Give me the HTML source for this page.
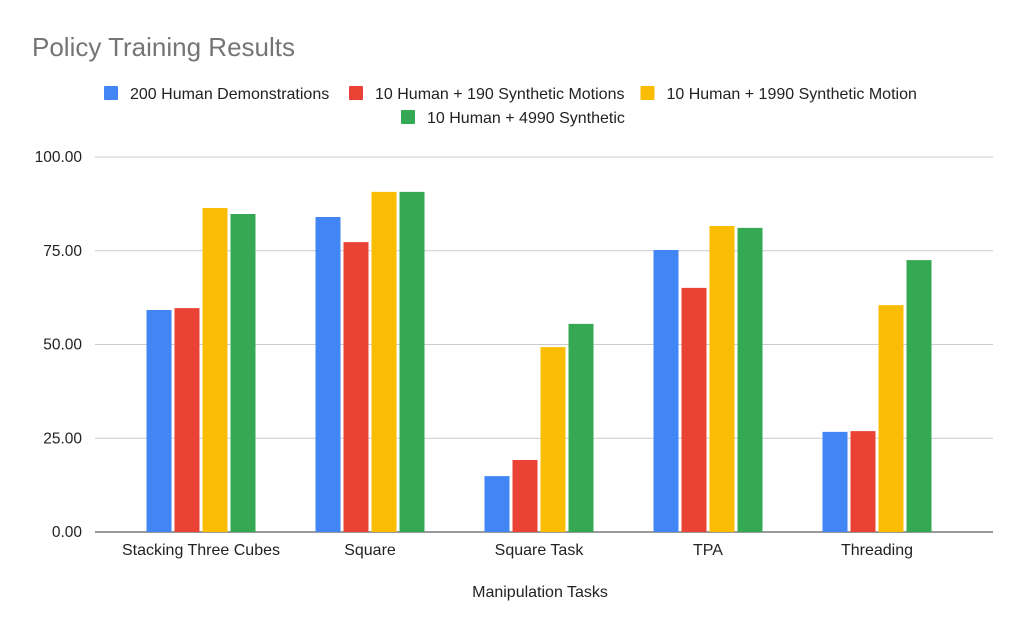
<!DOCTYPE html>
<html><head><meta charset="utf-8"><style>
body{margin:0;background:#fff;font-family:"Liberation Sans",Arial,sans-serif}
</style></head><body>
<svg id="c" width="1024" height="633" xmlns="http://www.w3.org/2000/svg">
<rect width="1024" height="633" fill="#fff"/>
<text x="32" y="56" font-size="26" fill="#757575">Policy Training Results</text>
<g id="legend"></g>
<g id="grid"></g><g id="bars"></g><g id="labels"></g>
<text x="540" y="597" font-size="16" fill="#222" text-anchor="middle">Manipulation Tasks</text>
</svg>
<script>
const categories=["Stacking Three Cubes","Square","Square Task","TPA","Threading"];
const seriesNames=["200 Human Demonstrations","10 Human + 190 Synthetic Motions","10 Human + 1990 Synthetic Motion","10 Human + 4990 Synthetic"];
const s1=[59.2,84.0,14.9,75.2,26.7];
const s2=[59.7,77.3,19.2,65.1,26.9];
const s3=[86.4,90.7,49.3,81.6,60.5];
const s4=[84.8,90.7,55.5,81.1,72.5];
const ticks=[0,25,50,75,100];
const colors=["#4285f4","#ea4335","#fbbc04","#34a853"];
const series=[s1,s2,s3,s4];
const NS="http://www.w3.org/2000/svg";
const gx0=95,gx1=993,bx0=116.5,bx1=961.5,y0=532,y100=157;
const y=v=>y0-(v/100)*(y0-y100);
const gw=(bx1-bx0)/categories.length;
function mk(tag,attrs,parent){const e=document.createElementNS(NS,tag);for(const k in attrs)e.setAttribute(k,attrs[k]);parent.appendChild(e);return e;}
const grid=document.getElementById('grid'),bars=document.getElementById('bars'),labels=document.getElementById('labels'),legend=document.getElementById('legend');
ticks.forEach(t=>{
 const l=mk('line',{x1:gx0,x2:gx1,y1:y(t),y2:y(t),stroke:t===0?'#333':'#ccc','stroke-width':1},grid);
 
 
 const tx=mk('text',{x:82,y:y(t)+5,'font-size':15.5,fill:'#222','text-anchor':'end'},labels);
 tx.textContent=t.toFixed(2);
 
 
});
const bw=25,gap=3;
categories.forEach((c,i)=>{
 const cx=bx0+gw*(i+0.5);
 const start=cx-(4*bw+3*gap)/2;
 series.forEach((s,j)=>{
  const r=mk('rect',{x:start+j*(bw+gap),y:y(s[i]),width:bw,height:y0-y(s[i]),fill:colors[j]},bars);
  
  
 });
 const tx=mk('text',{x:cx,y:555,'font-size':16,fill:'#222','text-anchor':'middle'},labels);
 tx.textContent=c;
 
 
});
const lpos=[[104,99],[349,99],[587,99],[401,123]];
seriesNames.forEach((n,j)=>{
 const r=mk('rect',{x:lpos[j][0],y:lpos[j][1]-13,width:14,height:14,fill:colors[j],rx:1},legend);
 
 
 const t=mk('text',{x:lpos[j][0]+26,y:lpos[j][1],'font-size':16,fill:'#222'},legend);
 t.textContent=n;
 
 
});
// adjust yellow legend position based on red text width
const items=legend.querySelectorAll('text');
const redEnd=items[1].getComputedTextLength()+375;
const sw=legend.querySelectorAll('rect');
sw[2].setAttribute('x',redEnd+16);
items[2].setAttribute('x',redEnd+42);
</script>
</body></html>
